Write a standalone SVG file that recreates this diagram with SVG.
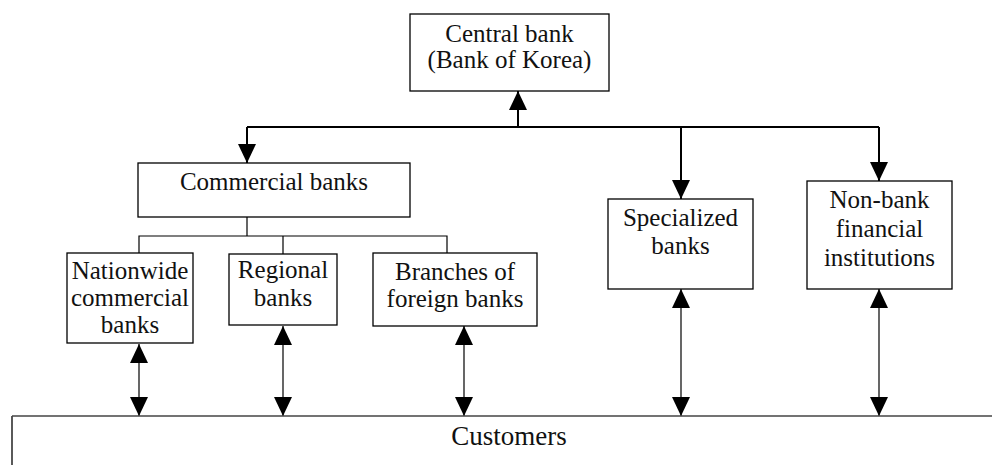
<svg xmlns="http://www.w3.org/2000/svg" width="992" height="465" viewBox="0 0 992 465">
<style>
.box{fill:#fff;stroke:#000;stroke-width:1.3}
.t{font-family:"Liberation Serif","Times New Roman",serif;font-size:25px;fill:#111;text-anchor:middle}
.thin{fill:none;stroke:#000;stroke-width:1.2}
.thick{fill:none;stroke:#000;stroke-width:2}
</style>
<defs>
<marker id="ah" viewBox="0 0 19 18" refX="19" refY="9" markerWidth="19" markerHeight="18" markerUnits="userSpaceOnUse" orient="auto-start-reverse">
<path d="M0,0 L19,9 L0,18 z" fill="#000"/>
</marker>
</defs>
<rect width="992" height="465" fill="#fff"/>
<g id="connectors">
<path class="thick" d="M247,127 H879"/>
<path class="thick" d="M518,127 V91" marker-end="url(#ah)"/>
<path class="thick" d="M247,127 V163" marker-end="url(#ah)"/>
<path class="thick" d="M681,127 V199" marker-end="url(#ah)"/>
<path class="thick" d="M879,127 V181" marker-end="url(#ah)"/>
<path class="thin" d="M247,217 V236 M139,253 V236 H447 V253 M283,236 V254"/>
<path class="thin" d="M139,344 V416" marker-start="url(#ah)" marker-end="url(#ah)"/>
<path class="thin" d="M283,326 V416" marker-start="url(#ah)" marker-end="url(#ah)"/>
<path class="thin" d="M464,326 V416" marker-start="url(#ah)" marker-end="url(#ah)"/>
<path class="thin" d="M681,289 V416" marker-start="url(#ah)" marker-end="url(#ah)"/>
<path class="thin" d="M879,289 V416" marker-start="url(#ah)" marker-end="url(#ah)"/>
</g>
<g id="central">
<rect class="box" x="410" y="14" width="199" height="77"/>
<text class="t" x="509.5" y="42">Central bank</text>
<text class="t" x="509.5" y="68">(Bank of Korea)</text>
</g>
<g id="commercial">
<rect class="box" x="138" y="163" width="272" height="54"/>
<text class="t" x="274" y="190">Commercial banks</text>
</g>
<g id="nationwide">
<rect class="box" x="67" y="253" width="126" height="90"/>
<text class="t" x="130" y="279">Nationwide</text>
<text class="t" x="130" y="306">commercial</text>
<text class="t" x="130" y="333">banks</text>
</g>
<g id="regional">
<rect class="box" x="229" y="254" width="108" height="71"/>
<text class="t" x="283" y="278">Regional</text>
<text class="t" x="283" y="306">banks</text>
</g>
<g id="branches">
<rect class="box" x="373" y="253" width="164" height="73"/>
<text class="t" x="455" y="280">Branches of</text>
<text class="t" x="455" y="307">foreign banks</text>
</g>
<g id="specialized">
<rect class="box" x="608" y="199" width="145" height="90"/>
<text class="t" x="680.5" y="226">Specialized</text>
<text class="t" x="680.5" y="254">banks</text>
</g>
<g id="nonbank">
<rect class="box" x="807" y="181" width="145" height="108"/>
<text class="t" x="879.5" y="208">Non-bank</text>
<text class="t" x="879.5" y="237">financial</text>
<text class="t" x="879.5" y="266">institutions</text>
</g>
<g id="customers">
<path d="M12,466 V416" fill="none" stroke="#000" stroke-width="1.3"/>
<path d="M12,416 H992" fill="none" stroke="#444" stroke-width="1.6"/>
<text class="t" x="509" y="445" style="font-size:27px">Customers</text>
</g>
</svg>
